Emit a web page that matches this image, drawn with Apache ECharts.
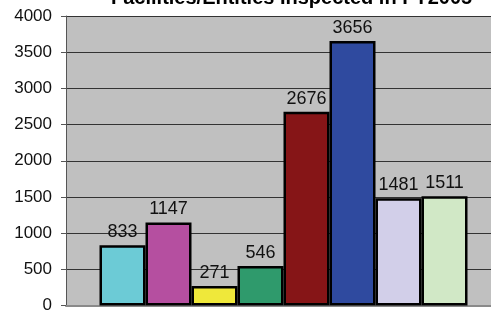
<!DOCTYPE html>
<html>
<head>
<meta charset="utf-8">
<script src="https://cdn.jsdelivr.net/npm/echarts@6/dist/echarts.min.js"></script>
<style>
  html, body { margin: 0; padding: 0; background: #fff; overflow: hidden; }
  /* the plot runs past the right edge of the picture, so the canvas is a bit wider than the window */
  #chart { width: 501px; height: 314px; }
</style>
</head>
<body>
<div id="chart"></div>
<script>
// values of the eight bars, left to right
const barValues = [833, 1147, 271, 546, 2676, 3656, 1481, 1511]
const barColors = ['#6ccbd6', '#b54fa0', '#efe83a', '#2f9a6c', '#861517', '#2f4a9f', '#d2cfe9', '#d1e8c6']
const categories = ['FY2005']
const yTicks = [0, 500, 1000, 1500, 2000, 2500, 3000, 3500, 4000]

const chart = echarts.init(document.getElementById('chart'))

const series = barValues.map((v, i) => {
  return {
    type: 'bar',
    data: [v],
    barWidth: 46,
    barGap: '0%',
    itemStyle: {
      color: barColors[i],
      borderColor: '#000',
      borderWidth: 2.5
    },
    label: {
      show: true,
      position: 'top',
      distance: 4,
      color: '#111',
      fontFamily: 'Liberation Sans',
      fontSize: 18
    }
  }
})

chart.setOption({
  animation: false,
  backgroundColor: '#fff',
  title: {
    text: 'Facilities/Entities Inspected in FY2005',
    left: 106,
    top: -17,
    textStyle: {
      fontFamily: 'Liberation Sans',
      fontWeight: 'bold',
      fontSize: 20,
      color: '#000'
    }
  },
  grid: {
    left: 66,
    top: 16,
    right: 0,
    bottom: 6,
    show: true,
    backgroundColor: '#c0c0c0',
    borderWidth: 0
  },
  xAxis: {
    type: 'category',
    data: categories,
    axisLine: { show: true, lineStyle: { color: '#8a8a8a', width: 2 } },
    axisTick: { show: false },
    axisLabel: { show: false }
  },
  yAxis: {
    type: 'value',
    min: yTicks[0],
    max: yTicks[yTicks.length - 1],
    interval: 500,
    axisLine: { show: true, lineStyle: { color: '#555', width: 1 } },
    axisTick: { show: true, length: 5, lineStyle: { color: '#555' } },
    axisLabel: {
      color: '#111',
      fontFamily: 'Liberation Sans',
      fontSize: 17,
      margin: 14,
      formatter: v => String(v)
    },
    splitLine: { show: true, lineStyle: { color: '#333', width: 1 } }
  },
  series: series
})
</script>
</body>
</html>
